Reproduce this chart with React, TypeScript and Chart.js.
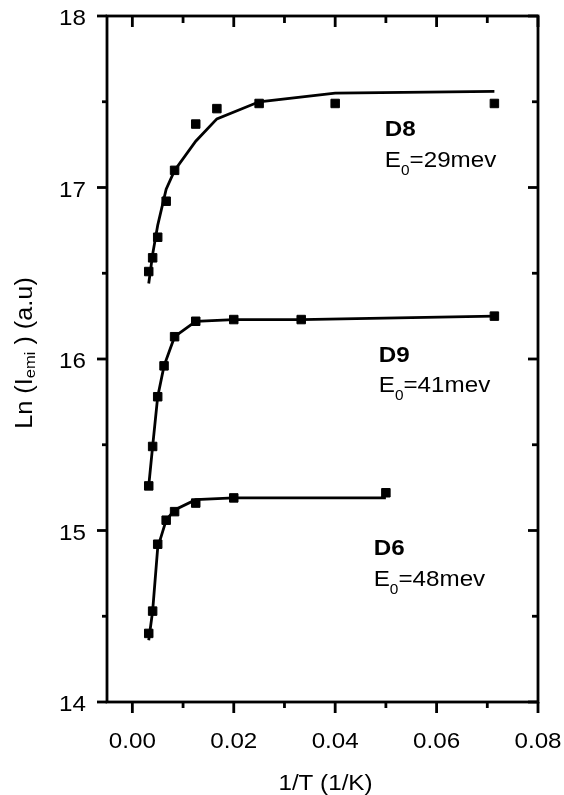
import React, { useEffect, useRef } from "react";
import { Chart, registerables } from "chart.js";
Chart.register(...registerables);

const FONT = '"Liberation Sans", Arial, Helvetica, sans-serif';
const STRETCH = 1.1;

// 1/T values (1/K)
const D8_X = [0.00323, 0.004, 0.005, 0.00667, 0.00833, 0.0125, 0.01667, 0.025, 0.04, 0.0714];
const D8_Y = [16.51, 16.59, 16.71, 16.92, 17.1, 17.37, 17.46, 17.49, 17.49, 17.49];
const D8_FIT_Y = [16.44, 16.61, 16.78, 16.99, 17.1, 17.27, 17.4, 17.5, 17.55, 17.56];

const D9_X = [0.00323, 0.004, 0.005, 0.00625, 0.00833, 0.0125, 0.02, 0.0333, 0.0714];
const D9_Y = [15.26, 15.49, 15.78, 15.96, 16.13, 16.22, 16.23, 16.23, 16.25];
const D9_FIT_Y = [15.26, 15.49, 15.78, 15.96, 16.13, 16.22, 16.23, 16.23, 16.25];

const D6_X = [0.00323, 0.004, 0.005, 0.00667, 0.00833, 0.0125, 0.02, 0.05];
const D6_Y = [14.4, 14.53, 14.92, 15.06, 15.11, 15.16, 15.19, 15.22];
const D6_FIT_Y = [14.36, 14.53, 14.9, 15.06, 15.12, 15.18, 15.19, 15.19];

const X_TICKS = [0, 0.02, 0.04, 0.06, 0.08];
const X_TICK_LABELS = ["0.00", "0.02", "0.04", "0.06", "0.08"];
const X_MINOR = [0.01, 0.03, 0.05, 0.07];
const Y_TICKS = [14, 15, 16, 17, 18];
const Y_TICK_LABELS = ["14", "15", "16", "17", "18"];
const Y_MINOR = [14.5, 15.5, 16.5, 17.5];

const LABEL_NAMES = ["D8", "D9", "D6"];
const LABEL_ENERGIES = ["=29mev", "=41mev", "=48mev"];
const LABEL_X = [0.0498, 0.0486, 0.0476];
const LABEL_Y = [17.3, 15.984, 14.857];

type Part = { t: string; sub?: boolean };

function drawRich(
  ctx: CanvasRenderingContext2D,
  parts: Part[],
  x: number,
  y: number,
  size: number,
  subSize: number,
  subDy: number,
  bold: boolean,
  align: "left" | "center" | "right"
) {
  const w = bold ? "bold " : "";
  const widths = parts.map((p) => {
    ctx.font = `${w}${p.sub ? subSize : size}px ${FONT}`;
    return ctx.measureText(p.t).width;
  });
  const total = widths.reduce((a, b) => a + b, 0) * STRETCH;
  const x0 = align === "center" ? x - total / 2 : align === "right" ? x - total : x;
  ctx.save();
  ctx.translate(x0, y);
  ctx.scale(STRETCH, 1);
  ctx.textAlign = "left";
  ctx.textBaseline = "alphabetic";
  ctx.fillStyle = "#000";
  let cur = 0;
  parts.forEach((p, i) => {
    ctx.font = `${w}${p.sub ? subSize : size}px ${FONT}`;
    ctx.fillText(p.t, cur, p.sub ? subDy : 0);
    cur += widths[i];
  });
  ctx.restore();
}

const framePlugin = {
  id: "frame",
  afterDraw(chart: any) {
    const ctx: CanvasRenderingContext2D = chart.ctx;
    const { left, right, top, bottom } = chart.chartArea;
    const xs = chart.scales.x;
    const ys = chart.scales.y;
    ctx.save();
    ctx.strokeStyle = "#000";
    ctx.lineWidth = 2.8;
    ctx.lineCap = "butt";
    ctx.strokeRect(left, top, right - left, bottom - top);
    const line = (x1: number, y1: number, x2: number, y2: number) => {
      ctx.beginPath();
      ctx.moveTo(x1, y1);
      ctx.lineTo(x2, y2);
      ctx.stroke();
    };
    X_TICKS.forEach((v) => {
      const p = xs.getPixelForValue(v);
      line(p, bottom, p, bottom + 11);
      line(p, top, p, top + 11);
    });
    X_MINOR.forEach((v) => {
      const p = xs.getPixelForValue(v);
      line(p, bottom, p, bottom + 6);
      line(p, top, p, top + 7);
    });
    Y_TICKS.forEach((v) => {
      const p = ys.getPixelForValue(v);
      line(left - 10, p, left, p);
      line(right - 10, p, right, p);
    });
    Y_MINOR.forEach((v) => {
      const p = ys.getPixelForValue(v);
      line(left - 5, p, left, p);
      line(right - 6, p, right, p);
    });

    // tick labels
    X_TICKS.forEach((v, i) => {
      const p = xs.getPixelForValue(v);
      drawRich(ctx, [{ t: X_TICK_LABELS[i] }], p, bottom + 46, 22, 14, 0, false, "center");
    });
    Y_TICKS.forEach((v, i) => {
      const p = ys.getPixelForValue(v);
      drawRich(ctx, [{ t: Y_TICK_LABELS[i] }], left - 21, p + 9, 22, 14, 0, false, "right");
    });

    // axis titles
    drawRich(ctx, [{ t: "1/T (1/K)" }], (left + right) / 2 + 3, bottom + 88, 22, 14, 0, false, "center");
    ctx.save();
    ctx.translate(32, (top + bottom) / 2 - 6);
    ctx.rotate(-Math.PI / 2);
    drawRich(
      ctx,
      [{ t: "Ln (I" }, { t: "emi", sub: true }, { t: " ) (a.u)" }],
      0,
      0,
      23,
      15,
      3,
      false,
      "center"
    );
    ctx.restore();

    // annotations
    LABEL_NAMES.forEach((name, i) => {
      const px = xs.getPixelForValue(LABEL_X[i]);
      const py = ys.getPixelForValue(LABEL_Y[i]);
      drawRich(ctx, [{ t: name }], px, py, 22, 14, 0, true, "left");
      drawRich(
        ctx,
        [{ t: "E" }, { t: "0", sub: true }, { t: LABEL_ENERGIES[i] }],
        px,
        py + 30.5,
        22,
        14,
        8,
        false,
        "left"
      );
    });
    ctx.restore();
  },
};

function fitDs(xs: number[], ys: number[]) {
  return {
    data: xs.map((x, i) => ({ x, y: ys[i] })),
    showLine: true,
    borderColor: "#000",
    borderWidth: 2.8,
    pointRadius: 0,
    tension: 0,
    fill: false,
  };
}

function ptsDs(xs: number[], ys: number[]) {
  return {
    data: xs.map((x, i) => ({ x, y: ys[i] })),
    showLine: false,
    pointStyle: "rect",
    pointRadius: 6,
    borderWidth: 1,
    borderColor: "#000",
    backgroundColor: "#000",
  };
}

export default function App() {
  const ref = useRef<HTMLCanvasElement | null>(null);
  useEffect(() => {
    if (!ref.current) return;
    const chart = new Chart(ref.current, {
      type: "scatter",
      data: {
        datasets: [
          fitDs(D8_X, D8_FIT_Y),
          fitDs(D9_X, D9_FIT_Y),
          fitDs(D6_X, D6_FIT_Y),
          ptsDs(D8_X, D8_Y),
          ptsDs(D9_X, D9_Y),
          ptsDs(D6_X, D6_Y),
        ] as any,
      },
      options: {
        animation: false,
        responsive: false,
        maintainAspectRatio: false,
        events: [],
        layout: { padding: { left: 107, right: 26, top: 16, bottom: 93 } },
        plugins: { legend: { display: false }, tooltip: { enabled: false } },
        scales: {
          x: { type: "linear", min: -0.005, max: 0.08, display: false },
          y: { type: "linear", min: 14, max: 18, display: false },
        },
      },
      plugins: [framePlugin],
    });
    return () => chart.destroy();
  }, []);
  return (
    <div style={{ position: "absolute", left: 0, top: 0, width: 564, height: 795, background: "#fff" }}>
      <canvas ref={ref} width={564} height={795} style={{ display: "block" }} />
    </div>
  );
}
